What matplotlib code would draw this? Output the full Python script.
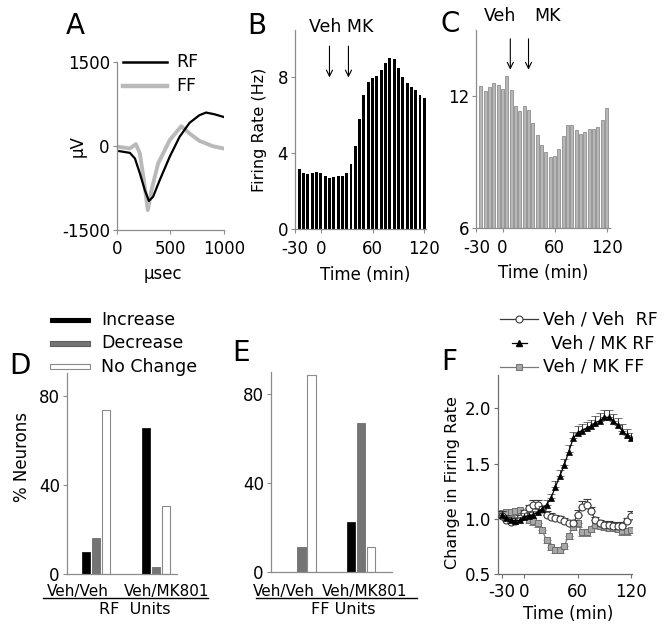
import numpy as np
import matplotlib
matplotlib.use("Agg")
import matplotlib.pyplot as plt
from matplotlib.lines import Line2D
from matplotlib.patches import Rectangle

plt.rcParams['font.family'] = ['DejaVu Sans']
plt.rcParams['axes.unicode_minus'] = False

# ---------------- data ----------------
# Panel A: waveforms
a_rf_t = [24, 123, 170, 216, 262, 300, 339, 401, 494, 586, 679, 771, 833, 910, 994]
a_rf_v = [-89, -120, -220, -488, -786, -980, -905, -607, -190, 167, 417, 554, 601, 571, 524]
a_ff_t = [15, 123, 179, 216, 253, 290, 324, 386, 494, 602, 679, 771, 895, 994]
a_ff_v = [-12, -41, 36, -131, -607, -1143, -786, -310, 107, 357, 226, 95, 0, -41]

# Panel B / C: firing rate histograms (5-min bins)
bc_time = [-25, -20, -15, -10, -5, 0, 5, 10, 15, 20, 25, 30, 35, 40, 45, 50, 55, 60,
           65, 70, 75, 80, 85, 90, 95, 100, 105, 110, 115, 120]
b_rate = [3.19, 2.98, 2.91, 2.98, 3.04, 2.95, 2.79, 2.72, 2.77, 2.81, 2.81, 2.96, 3.44, 4.39,
          5.79, 7.05, 7.75, 7.96, 8.10, 8.39, 8.77, 9.04, 8.95, 8.50, 8.04, 7.72, 7.49, 7.32,
          7.10, 6.91]
c_rate = [12.46, 12.21, 12.40, 12.61, 12.52, 12.30, 12.89, 12.29, 11.57, 11.34, 11.54, 11.37,
          10.78, 10.22, 9.80, 9.45, 9.24, 9.26, 9.62, 10.19, 10.68, 10.71, 10.48, 10.30, 10.39,
          10.51, 10.52, 10.60, 10.90, 11.46]
injections = ["Veh", "MK"]
b_inj_time = [10, 32]
c_inj_time = [9, 30]

# Panel D / E: % neurons
groups = ["Veh/Veh", "Veh/MK801"]
resp_labels = ["Increase", "Decrease", "No Change"]
d_increase = [9.7, 65.6]
d_decrease = [16.1, 3.3]
d_nochange = [73.8, 30.6]
e_increase = [0.0, 22.2]
e_decrease = [11.1, 66.8]
e_nochange = [88.7, 11.1]

# Panel F: normalized firing rate
f_time = bc_time
f_vv_rf = [1.03, 0.99, 0.97, 0.98, 1.01, 1.05, 1.10, 1.13, 1.13, 1.09, 1.04, 1.02, 1.01, 1.00,
           0.98, 0.96, 0.96, 1.04, 1.11, 1.13, 1.07, 0.99, 0.96, 0.95, 0.95, 0.94, 0.94, 0.94,
           0.98, 1.03]
f_vv_rf_err = [0.04, 0.03, 0.03, 0.03, 0.03, 0.03, 0.03, 0.04, 0.04, 0.03, 0.03, 0.03, 0.03,
               0.03, 0.03, 0.03, 0.03, 0.04, 0.05, 0.05, 0.04, 0.03, 0.03, 0.03, 0.03, 0.03,
               0.03, 0.03, 0.03, 0.04]
f_vm_rf = [1.04, 1.01, 0.99, 0.98, 0.99, 1.02, 1.03, 1.04, 1.06, 1.09, 1.13, 1.19, 1.29, 1.39,
           1.49, 1.61, 1.73, 1.78, 1.80, 1.82, 1.84, 1.87, 1.89, 1.92, 1.92, 1.89, 1.85, 1.80,
           1.76, 1.73]
f_vm_rf_err = [0.03, 0.03, 0.03, 0.03, 0.03, 0.03, 0.03, 0.03, 0.03, 0.03, 0.04, 0.04, 0.05,
               0.05, 0.05, 0.06, 0.06, 0.06, 0.06, 0.06, 0.06, 0.06, 0.07, 0.07, 0.07, 0.06,
               0.06, 0.06, 0.05, 0.05]
f_vm_ff = [1.05, 1.06, 1.06, 1.07, 1.08, 1.03, 0.99, 0.98, 0.96, 0.90, 0.81, 0.75, 0.72, 0.72,
           0.76, 0.85, 0.93, 0.96, 0.88, 0.88, 0.91, 0.95, 0.94, 0.93, 0.92, 0.92, 0.91, 0.89,
           0.89, 0.90]
f_vm_ff_err = [0.03] * 30
f_legend = ["Veh / Veh  RF", "Veh / MK RF", "Veh / MK FF"]

# ---------------- layout helpers ----------------
W, H = 668, 629
fig = plt.figure(figsize=(W / 100, H / 100), dpi=100)
fig.patch.set_facecolor('white')


def ax_px(l, t, r, b):
    return fig.add_axes([l / W, 1 - b / H, (r - l) / W, (b - t) / H])


def fx(x):
    return x / W


def fy(y):
    return 1 - y / H


def ftext(x, y, s, **kw):
    fig.text(fx(x), fy(y), s, **kw)


def fline(x0, x1, y, **kw):
    fig.add_artist(Line2D([fx(x0), fx(x1)], [fy(y), fy(y)], transform=fig.transFigure, **kw))


SPINE = '#8c8c8c'
TFS = 12
LFS = 12
LET = 20


def style(ax, spine=SPINE, xpad=2):
    for s in ['top', 'right']:
        ax.spines[s].set_visible(False)
    for s in ['left', 'bottom']:
        ax.spines[s].set_color(spine)
        ax.spines[s].set_linewidth(0.9)
    ax.tick_params(direction='out', length=3, width=0.8, colors=spine, labelcolor='black',
                   labelsize=TFS, pad=2)
    ax.tick_params(axis='x', pad=xpad)
    ax.set_facecolor('none')


# ---------------- Panel A ----------------
axA = ax_px(116.7, 62.3, 224, 230)
style(axA, xpad=4)
axA.plot(a_ff_t, a_ff_v, color='#b9b9b9', lw=2.8, solid_joinstyle='round')
axA.plot(a_rf_t, a_rf_v, color='black', lw=1.6)
axA.set_xlim(0, 1000)
axA.set_ylim(-1500, 1500)
axA.set_xticks([0, 500, 1000])
axA.set_yticks([-1500, 0, 1500])
axA.set_yticklabels(['-1500', '0', '1500'])
ftext(77.5, 146, 'µV', rotation=90, ha='center', va='center', fontsize=LFS)
ftext(163, 274, 'µsec', ha='center', va='center', fontsize=LFS)
fline(123, 167, 62, color='black', lw=1.8)
fline(123, 167, 86, color='#b9b9b9', lw=3.2)
ftext(176, 62, 'RF', ha='left', va='center', fontsize=12.5)
ftext(176, 86, 'FF', ha='left', va='center', fontsize=12.5)
ftext(66, 26, 'A', ha='left', va='center', fontsize=LET)

# ---------------- Panel B ----------------
axB = ax_px(295, 30, 426, 229.3)
style(axB, xpad=4.5)
axB.bar(bc_time, b_rate, width=3.4, color='black', edgecolor='black', linewidth=0)
axB.set_xlim(-30, 122)
axB.set_ylim(0, 10.5)
axB.set_yticks([0, 4, 8])
axB.set_xticks([-30, 0, 60, 120])
axB.set_xticklabels(['-30', '0', '60', '120'])
for t in b_inj_time:
    axB.annotate('', xy=(t, 8.0), xytext=(t, 9.65),
                 arrowprops=dict(arrowstyle='->', lw=0.8, color='black', mutation_scale=11,
                                 shrinkA=0, shrinkB=0))
ftext(341, 26.5, injections[0] + ' ' + injections[1], ha='center', va='center', fontsize=12.5)
ftext(259.5, 130, 'Firing Rate (Hz)', rotation=90, ha='center', va='center', fontsize=11.5)
ftext(365, 275, 'Time (min)', ha='center', va='center', fontsize=LFS)
ftext(247, 26, 'B', ha='left', va='center', fontsize=LET)

# ---------------- Panel C ----------------
axC = ax_px(476.5, 30, 610, 228.3)
style(axC, xpad=4.5)
axC.bar(bc_time, c_rate, width=3.6, bottom=0, color='#b7b7b7', edgecolor='#8e8e8e',
        linewidth=0.6)
axC.set_xlim(-30, 124)
axC.set_ylim(6, 15)
axC.set_yticks([6, 12])
axC.set_xticks([-30, 0, 60, 120])
axC.set_xticklabels(['-30', '0', '60', '120'])
for t in c_inj_time:
    axC.annotate('', xy=(t, 13.2), xytext=(t, 14.6),
                 arrowprops=dict(arrowstyle='->', lw=0.8, color='black', mutation_scale=11,
                                 shrinkA=0, shrinkB=0))
ftext(500, 16, injections[0], ha='center', va='center', fontsize=12.5)
ftext(547.5, 16, injections[1], ha='center', va='center', fontsize=12.5)
ftext(543, 273.5, 'Time (min)', ha='center', va='center', fontsize=LFS)
ftext(441, 24, 'C', ha='left', va='center', fontsize=LET)

# ---------------- Panel D / E ----------------
x = np.arange(len(groups))
bw, off = 0.145, 0.167
BAR_EDGE = '#8a8a8a'


def bars(ax, inc, dec, nc):
    ax.bar(x - off, inc, width=bw, color='black', edgecolor='black', linewidth=0.5)
    ax.bar(x, dec, width=bw, color='#747474', edgecolor='#5e5e5e', linewidth=0.5)
    ax.bar(x + off, nc, width=bw, color='white', edgecolor=BAR_EDGE, linewidth=0.8)
    ax.set_ylim(0, 90)
    ax.set_yticks([0, 40, 80])
    ax.set_xticks([])


axD = ax_px(66.7, 373.4, 177, 574)
style(axD)
bars(axD, d_increase, d_decrease, d_nochange)
axD.set_xlim(-0.49, 1.35)
ftext(21.7, 456.7, '% Neurons', rotation=90, ha='center', va='center', fontsize=LFS)
ftext(78, 591.5, groups[0], ha='center', va='center', fontsize=11)
ftext(166.7, 591.5, groups[1], ha='center', va='center', fontsize=11)
fline(43, 208, 598, color='black', lw=1.0)
ftext(135, 609.5, 'RF  Units', ha='center', va='center', fontsize=11.5)
ftext(9, 366, 'D', ha='left', va='center', fontsize=LET)

# legend for D
leg_y = [320, 343.3, 366.7]
leg_fc = ['black', '#747474', 'white']
leg_ec = ['black', '#5e5e5e', BAR_EDGE]
for yy, fc, ec, lab in zip(leg_y, leg_fc, leg_ec, resp_labels):
    fig.add_artist(Rectangle((fx(49.5), fy(yy + 2.3)), (90 - 49.5) / W, 4.6 / H,
                             transform=fig.transFigure, facecolor=fc, edgecolor=ec, lw=0.8))
    ftext(101, yy, lab, ha='left', va='center', fontsize=12.5)

axE = ax_px(270.7, 371.7, 391.7, 571.7)
style(axE)
bars(axE, e_increase, e_decrease, e_nochange)
axE.set_xlim(-0.51, 1.51)
ftext(283.7, 591.5, groups[0], ha='center', va='center', fontsize=11)
ftext(365, 591.5, groups[1], ha='center', va='center', fontsize=11)
fline(256, 416.7, 598, color='black', lw=1.0)
ftext(343.3, 609.5, 'FF Units', ha='center', va='center', fontsize=11.5)
ftext(232, 353, 'E', ha='left', va='center', fontsize=LET)

# ---------------- Panel F ----------------
axF = ax_px(497.6, 375.3, 631.9, 574.3)
style(axF, spine='#707070', xpad=3)
errkw = dict(capsize=2.6, elinewidth=0.8, capthick=0.8, markersize=5, lw=0.9)
z = np.zeros(len(f_time))
axF.errorbar(f_time, f_vm_ff, yerr=[f_vm_ff_err, z], fmt='-s', color='#7a7a7a',
             mfc='#a8a8a8', mec='#6f6f6f', ecolor='#7a7a7a', mew=0.7, zorder=2, **errkw)
axF.errorbar(f_time, f_vv_rf, yerr=[z, f_vv_rf_err], fmt='-o', color='#3a3a3a',
             mfc='white', mec='#3a3a3a', ecolor='#3a3a3a', mew=0.8, zorder=3, **errkw)
axF.errorbar(f_time, f_vm_rf, yerr=[z, f_vm_rf_err], fmt='-^', color='black',
             mfc='black', mec='black', ecolor='#3a3a3a', mew=0.5, zorder=4, **errkw)
axF.set_xlim(-30, 121)
axF.set_ylim(0.5, 2.3)
axF.set_yticks([0.5, 1.0, 1.5, 2.0])
axF.set_yticklabels(['0.5', '1.0', '1.5', '2.0'])
axF.set_xticks([-25, 0, 60, 120])
axF.set_xticklabels(['-30', '0', '60', '120'])
ftext(452, 483, 'Change in Firing Rate', rotation=90, ha='center', va='center', fontsize=11.5)
ftext(568, 614, 'Time (min)', ha='center', va='center', fontsize=LFS)
ftext(441, 362, 'F', ha='left', va='center', fontsize=LET)

# legend for F
fline(500, 538, 319.3, color='#3a3a3a', lw=0.9)
fig.add_artist(Line2D([fx(519)], [fy(319.3)], transform=fig.transFigure, marker='o',
                      mfc='white', mec='#3a3a3a', markersize=5, mew=0.8, lw=0))
ftext(543, 319.3, f_legend[0], ha='left', va='center', fontsize=12.5)
fline(512, 527, 343.3, color='black', lw=0.9)
fig.add_artist(Line2D([fx(519)], [fy(343.3)], transform=fig.transFigure, marker='^',
                      mfc='black', mec='black', markersize=5, lw=0))
ftext(551, 343.3, f_legend[1], ha='left', va='center', fontsize=12.5)
fline(500, 538, 366.7, color='#7a7a7a', lw=0.9)
fig.add_artist(Line2D([fx(519)], [fy(366.7)], transform=fig.transFigure, marker='s',
                      mfc='#a8a8a8', mec='#6f6f6f', markersize=5, mew=0.7, lw=0))
ftext(543, 366.7, f_legend[2], ha='left', va='center', fontsize=12.5)

fig.savefig('out.png', dpi=100, facecolor='white')
